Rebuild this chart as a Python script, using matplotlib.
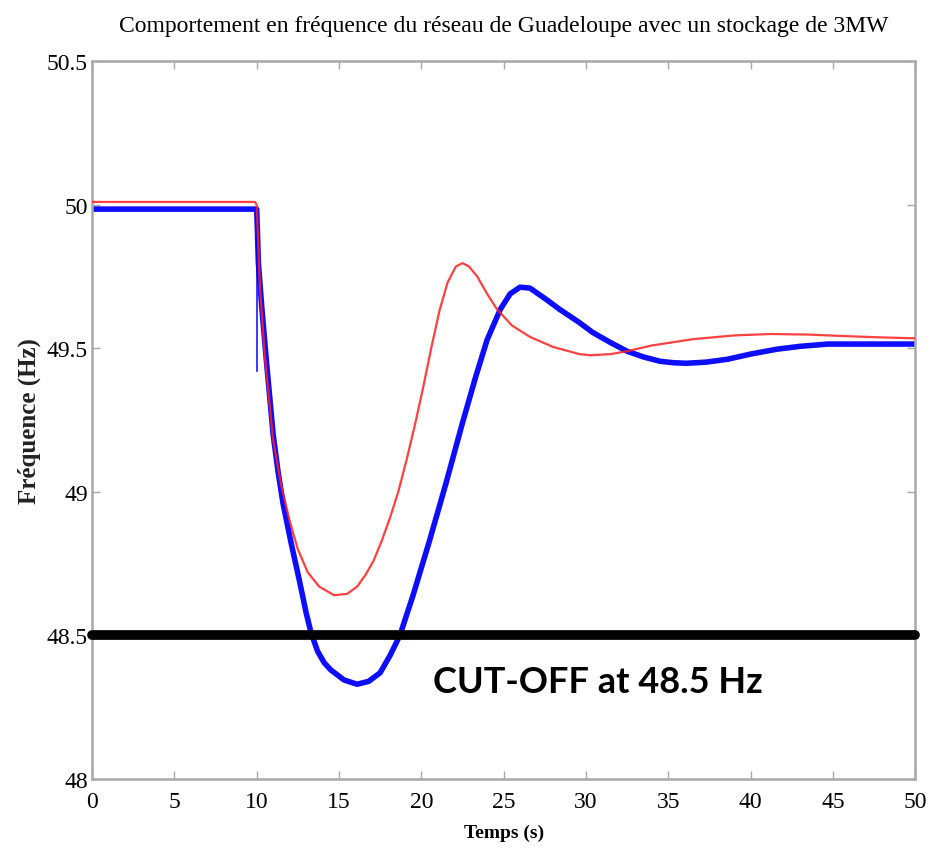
import matplotlib
matplotlib.use('Agg')
import matplotlib.pyplot as plt

# Red curve
t_red = [0, 9.9, 10.0, 10.2, 10.5, 11.0, 11.5, 12.0, 12.5, 13.1, 13.8, 14.7, 15.5,
         16.1, 16.6, 17.1, 17.6, 18.1, 18.6, 19.1, 19.6, 20.1, 20.6, 21.1, 21.6,
         22.1, 22.5, 22.9, 23.4, 24.0, 24.6, 25.5, 26.6, 28.0, 29.6, 30.3, 31.5,
         32.5, 34.0, 36.5, 39.0, 41.2, 43.5, 45.6, 48.0, 50.0]
f_red = [50.01, 50.01, 50.0, 49.71, 49.47, 49.18, 49.02, 48.90, 48.80, 48.72,
         48.67, 48.64, 48.645, 48.67, 48.71, 48.76, 48.83, 48.91, 49.00, 49.11,
         49.23, 49.36, 49.50, 49.63, 49.73, 49.785, 49.797, 49.785, 49.75, 49.69,
         49.636, 49.58, 49.54, 49.505, 49.48, 49.476, 49.48, 49.49, 49.51, 49.532,
         49.545, 49.55, 49.548, 49.543, 49.538, 49.535]

# Blue curve
t_blue = [0, 10.0, 10.05, 10.1, 10.3, 10.6, 11.0, 11.3, 11.6, 12.1, 12.6, 13.0,
          13.3, 13.7, 14.1, 14.5, 15.3, 16.1, 16.8, 17.5, 18.1, 18.7, 19.5, 20.5,
          21.5, 22.5, 23.3, 24.0, 24.8, 25.4, 26.0, 26.6, 27.6, 28.4, 29.6, 30.4,
          31.5, 32.5, 33.5, 34.5, 35.3, 36.1, 37.3, 38.6, 40.0, 41.6, 43.0, 44.7,
          47.0, 50.0]
f_blue = [49.985, 49.985, 49.90, 49.80, 49.65, 49.45, 49.20, 49.07, 48.96, 48.82,
          48.69, 48.58, 48.51, 48.445, 48.405, 48.38, 48.345, 48.33, 48.34, 48.37,
          48.43, 48.50, 48.64, 48.83, 49.03, 49.24, 49.40, 49.53, 49.636, 49.69,
          49.713, 49.71, 49.67, 49.636, 49.59, 49.556, 49.52, 49.49, 49.47, 49.455,
          49.45, 49.448, 49.452, 49.462, 49.48, 49.497, 49.507, 49.515, 49.515,
          49.515]

# thin blue spike at the disturbance
t_spike = [10.0, 10.0]
f_spike = [49.985, 49.42]

cutoff = 48.5
x_ticks = [0, 5, 10, 15, 20, 25, 30, 35, 40, 45, 50]
y_ticks = [48, 48.5, 49, 49.5, 50, 50.5]
y_labels = ['48', '48.5', '49', '49.5', '50', '50.5']

serif = 'Liberation Serif'
frame_col = '#a8a8a8'

fig = plt.figure(figsize=(9.3, 8.53), dpi=100)
ax = fig.add_axes([0.099, 0.0856, 0.885, 0.8414])

ax.plot(t_blue, f_blue, color='#0000ff', lw=4.0, alpha=0.95, zorder=2,
        solid_joinstyle='round')
ax.plot(t_spike, f_spike, color='#0000ff', lw=1.2, alpha=0.9, zorder=2)
ax.plot(t_red, f_red, color='#ff2020', lw=1.6, alpha=0.85, zorder=3)
ax.plot([x_ticks[0], x_ticks[-1]], [cutoff, cutoff], color='k', lw=7,
        solid_capstyle='round', clip_on=False, zorder=4)

ax.text(30.75, 48.34, 'CUT-OFF at 48.5 Hz', fontsize=26, fontweight='bold',
        family='Lato', ha='center', va='center', zorder=5)

ax.set_xlim(0, 50)
ax.set_ylim(48, 50.5)
ax.set_xticks(x_ticks)
ax.set_xticklabels([str(v) for v in x_ticks], family=serif, fontsize=17)
ax.set_yticks(y_ticks)
ax.set_yticklabels(y_labels, family=serif, fontsize=17)
ax.tick_params(axis='x', pad=9)
ax.tick_params(axis='y', pad=3)
ax.tick_params(direction='in', top=True, right=True, length=6, width=1,
               color=frame_col)
for s in ax.spines.values():
    s.set_color(frame_col)
    s.set_linewidth(1.8)

ax.set_title('Comportement en fréquence du réseau de Guadeloupe avec un stockage de 3MW',
             family=serif, fontsize=17, pad=22)
ax.set_xlabel('Temps (s)', family=serif, fontsize=14, fontweight='bold', labelpad=8)
ax.set_ylabel('Fréquence (Hz)', family=serif, fontsize=18, fontweight='bold',
              labelpad=4, color='#222222')

fig.savefig('out.png', dpi=100)
